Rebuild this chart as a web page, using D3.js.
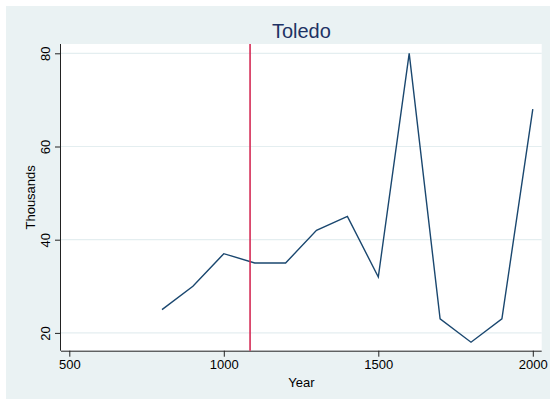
<!DOCTYPE html>
<html>
<head>
<meta charset="utf-8">
<script src="https://cdn.jsdelivr.net/npm/d3@7"></script>
<style>
  body { margin: 0; background: #fff; }
  svg text { font-family: "Liberation Sans", Arial, sans-serif; }
</style>
</head>
<body>
<div class="chart_container"></div>
<script>
    // data
    var years = [800, 900, 1000, 1100, 1200, 1300, 1400, 1500, 1600, 1700, 1800, 1900, 2000];
    var thousands = [25, 30, 37, 35, 35, 42, 45, 32, 80, 23, 18, 23, 68];
    var xTicks = [500, 1000, 1500, 2000];
    var yTicks = [20, 40, 60, 80];
    var markYear = 1085;

    var w = 550, h = 405;
    // plot region edges
    var p_left = 61, p_right = 541.7, p_top = 44, p_bottom = 350.7;

    var svg = d3.select('.chart_container')
                .append('svg')
                .attr('width', w)
                .attr('height', h);

    // graph region background
    svg.append('rect')
        .attr('x', 6).attr('y', 6)
        .attr('width', w - 6).attr('height', 393)
        .style('fill', '#eaf2f3');
    // plot region
    svg.append('rect')
        .attr('x', p_left).attr('y', p_top)
        .attr('width', p_right - p_left).attr('height', p_bottom - p_top)
        .style('fill', '#fff');

    var x_scale = d3.scaleLinear()
                    .domain([500, 2000])
                    .range([69.3, 532.8]);
    var y_scale = d3.scaleLinear()
                    .domain([20, 80])
                    .range([332.9, 53.3]);

    // grid lines
    svg.append('g')
        .selectAll('line')
        .data(yTicks)
        .enter()
        .append('line')
        .attr('x1', p_left).attr('x2', p_right)
        .attr('y1', d => y_scale(d)).attr('y2', d => y_scale(d))
        .style('stroke', '#e4eef0')
        .style('stroke-width', 1.2);

    // x axis
    var x_axis = d3.axisBottom(x_scale)
                    .tickValues(xTicks)
                    .tickFormat(d3.format('d'))
                    .tickSize(6)
                    .tickPadding(3)
                    .tickSizeOuter(0);
    var gx = svg.append('g')
        .attr('transform', 'translate(0,' + p_bottom + ')')
        .call(x_axis);
    gx.select('.domain').attr('d', 'M' + p_left + ',0.5H' + p_right);
    gx.selectAll('text').style('font-size', '13px').style('fill', '#000');

    // y axis, labels rotated
    var y_axis = d3.axisLeft(y_scale)
                    .tickValues(yTicks)
                    .tickFormat(d3.format('d'))
                    .tickSize(6)
                    .tickSizeOuter(0);
    var gy = svg.append('g')
        .attr('transform', 'translate(' + p_left + ',0)')
        .call(y_axis);
    gy.select('.domain').attr('d', 'M-0.5,' + p_top + 'V' + p_bottom);
    gy.selectAll('text')
        .attr('x', null).attr('dy', null)
        .attr('transform', 'translate(-11,0) rotate(-90)')
        .style('text-anchor', 'middle')
        .style('font-size', '13px')
        .style('fill', '#000');
    svg.selectAll('.domain, .tick line').style('stroke', '#222');

    // axis titles
    svg.append('text')
        .attr('x', (p_left + p_right) / 2)
        .attr('y', 387)
        .style('text-anchor', 'middle')
        .style('font-size', '13px')
        .text('Year');
    svg.append('text')
        .attr('transform', 'translate(35,' + ((p_top + p_bottom) / 2) + ') rotate(-90)')
        .style('text-anchor', 'middle')
        .style('font-size', '13px')
        .text('Thousands');

    // title
    svg.append('text')
        .attr('x', (p_left + p_right) / 2)
        .attr('y', 38.3)
        .style('text-anchor', 'middle')
        .style('font-size', '20px')
        .style('fill', '#1e3264')
        .text('Toledo');

    // the series
    var line = d3.line()
                .x(d => x_scale(d[0]))
                .y(d => y_scale(d[1]));
    svg.append('path')
        .attr('d', line(d3.zip(years, thousands)))
        .style('fill', 'none')
        .style('stroke', '#1a476f')
        .style('stroke-width', 1.4);

    // vertical marker line
    svg.append('line')
        .attr('x1', x_scale(markYear)).attr('x2', x_scale(markYear))
        .attr('y1', p_top).attr('y2', p_bottom)
        .style('stroke', '#d42a55')
        .style('stroke-width', 1.6);
</script>
</body>
</html>
